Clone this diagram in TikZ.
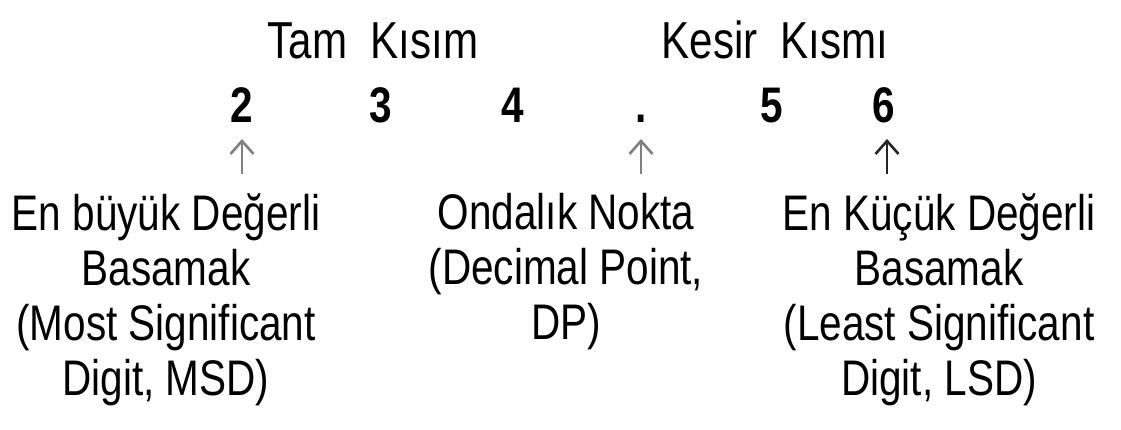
\documentclass[tikz,border=0pt]{standalone}
\usepackage{fontspec}
\setmainfont[FakeStretch=0.81]{Liberation Sans}
\usetikzlibrary{arrows.meta}
\tikzset{
  head/.style={anchor=base, inner sep=0pt, font=\fontsize{52}{58}\selectfont},
  digit/.style={anchor=base, inner sep=0pt, font=\fontsize{50}{55}\selectfont\bfseries},
  desc/.style={anchor=north, inner sep=0pt, align=center, font=\fontsize{50}{55}\selectfont},
  uparrow/.style={draw=#1, line width=2.8pt, -{Straight Barb[length=13pt,width=23pt,line width=2.6pt]}},
}
\begin{document}
\begin{tikzpicture}[x=1pt,y=-1pt]
\useasboundingbox (0,0) rectangle (1121,429);
\node[head] (tam) at (373,58) {Tam\ \ Kısım};
\node[head] (kesir) at (775,58) {Kesir\ \ Kısmı};
\node[digit] (d2) at (242,122) {2};
\node[digit] (d3) at (381,122) {3};
\node[digit] (d4) at (513,122) {4};
\node[digit] (dp) at (641,122) {.};
\node[digit] (d5) at (772,122) {5};
\node[digit] (d6) at (884,122) {6};
\coordinate (a1s) at (242,174); \coordinate (a1e) at (242,139);
\coordinate (a2s) at (641,174); \coordinate (a2e) at (641,139);
\coordinate (a3s) at (887,174); \coordinate (a3e) at (887,139);
\draw[uparrow=gray] (a1s) -- (a1e);
\draw[uparrow=gray] (a2s) -- (a2e);
\draw[uparrow=black!85] (a3s) -- (a3e);
\node[desc] (msd) at (166,193) {En büyük Değerli\\Basamak\\(Most Significant\\Digit, MSD)};
\node[desc] (dpt) at (566,193) {Ondalık Nokta\\(Decimal Point,\\DP)};
\node[desc] (lsd) at (939,193) {En Küçük Değerli\\Basamak\\(Least Significant\\Digit, LSD)};
\end{tikzpicture}
\end{document}
